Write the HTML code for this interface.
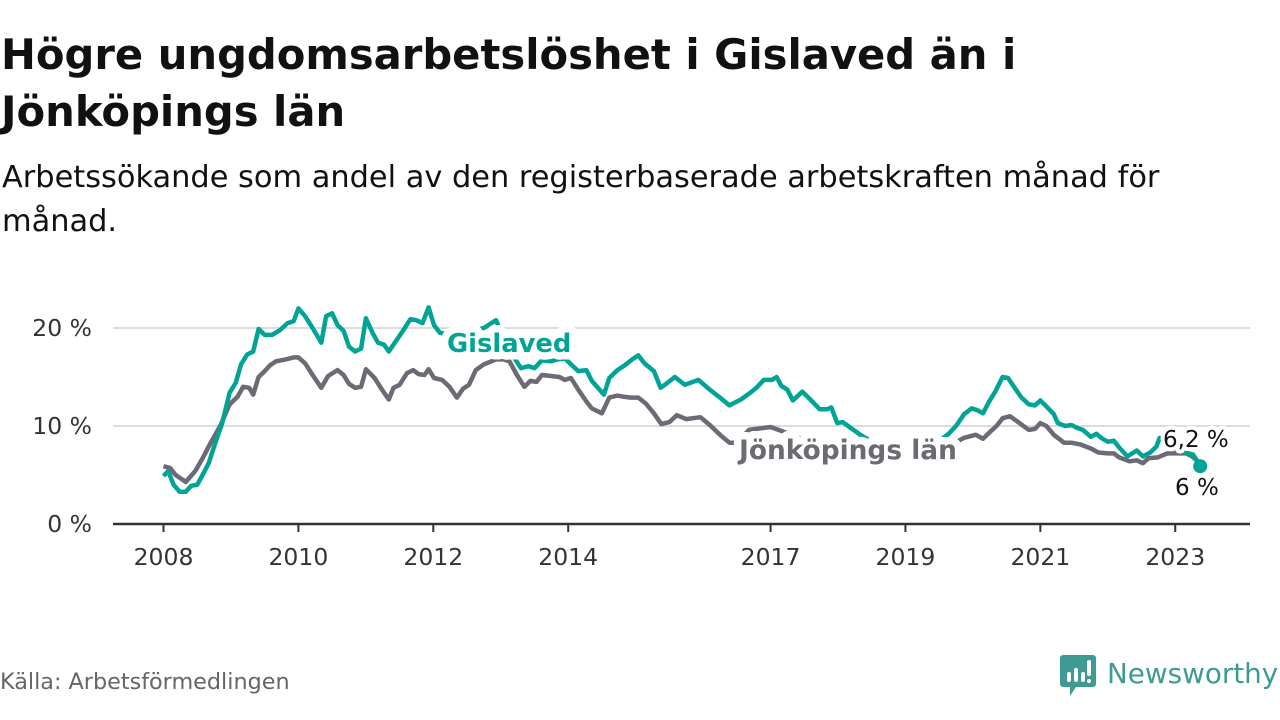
<!DOCTYPE html>
<html><head><meta charset="utf-8"><style>
body{margin:0;width:1280px;height:720px;background:#fff;font-family:"DejaVu Sans","Liberation Sans",sans-serif;overflow:hidden;position:relative}
#title{position:absolute;left:1px;top:26px;font-size:41.7px;font-weight:bold;line-height:57px;color:#111;margin:0;white-space:nowrap}
#sub{position:absolute;left:2px;top:156px;font-size:30.4px;line-height:44px;color:#111;margin:0;white-space:nowrap}
#src{position:absolute;left:0;top:669px;font-size:22.3px;color:#666}
svg{position:absolute;left:0;top:0}
svg text{font-family:"DejaVu Sans","Liberation Sans",sans-serif}
</style></head><body>
<h1 id="title">Högre ungdomsarbetslöshet i Gislaved än i<br>Jönköpings län</h1>
<p id="sub">Arbetssökande som andel av den registerbaserade arbetskraften månad för<br>månad.</p>
<div id="src">Källa: Arbetsförmedlingen</div>
<svg id="chart" width="1280" height="720"></svg>
<script>
const yTicks=[0,10,20];
const yTickLabels=["0 %","10 %","20 %"];
const xTicks=[2008,2010,2012,2014,2017,2019,2021,2023];
const gDates=[2008.0,2008.07,2008.15,2008.24,2008.33,2008.41,2008.5,2008.58,2008.67,2008.75,2008.87,2008.98,2009.07,2009.15,2009.24,2009.33,2009.41,2009.5,2009.61,2009.73,2009.84,2009.93,2010.0,2010.1,2010.21,2010.34,2010.41,2010.5,2010.58,2010.67,2010.75,2010.84,2010.93,2011.0,2011.1,2011.18,2011.27,2011.34,2011.44,2011.55,2011.66,2011.75,2011.84,2011.93,2012.01,2012.1,2012.3,2012.5,2012.75,2012.93,2013.1,2013.3,2013.41,2013.5,2013.61,2013.75,2013.84,2013.95,2014.04,2014.15,2014.27,2014.35,2014.44,2014.53,2014.61,2014.73,2014.84,2014.95,2015.04,2015.13,2015.27,2015.37,2015.47,2015.58,2015.73,2015.93,2016.1,2016.25,2016.39,2016.56,2016.7,2016.79,2016.9,2017.02,2017.09,2017.16,2017.25,2017.33,2017.47,2017.59,2017.73,2017.84,2017.9,2017.99,2018.07,2018.19,2018.33,2018.6,2018.9,2019.1,2019.4,2019.64,2019.75,2019.87,2019.98,2020.07,2020.15,2020.24,2020.33,2020.44,2020.52,2020.61,2020.72,2020.83,2020.92,2021.0,2021.09,2021.2,2021.26,2021.37,2021.46,2021.55,2021.63,2021.75,2021.83,2021.92,2022.0,2022.09,2022.17,2022.29,2022.43,2022.52,2022.63,2022.72,2022.77,2022.9,2023.05,2023.2,2023.26,2023.37];
const gVals=[4.9,5.4,4.0,3.3,3.3,3.9,4.0,5.0,6.2,7.9,10.3,13.4,14.4,16.3,17.3,17.6,19.9,19.3,19.3,19.8,20.5,20.7,22.0,21.2,20.0,18.5,21.2,21.5,20.3,19.7,18.1,17.6,17.9,21.0,19.5,18.5,18.3,17.6,18.6,19.7,20.9,20.8,20.5,22.1,20.3,19.5,19.3,19.6,20.0,20.8,18.0,15.9,16.1,15.9,16.7,16.6,16.8,16.9,16.3,15.6,15.7,14.6,13.9,13.2,14.9,15.7,16.2,16.8,17.2,16.4,15.6,13.9,14.4,15.0,14.2,14.7,13.7,12.9,12.1,12.7,13.4,13.9,14.7,14.7,15.0,14.1,13.7,12.6,13.5,12.7,11.7,11.7,11.9,10.3,10.4,9.8,9.1,8.0,7.6,7.6,7.9,9.2,10.0,11.2,11.8,11.6,11.3,12.5,13.5,15.0,14.9,14.0,12.9,12.2,12.1,12.6,12.0,11.2,10.3,10.0,10.1,9.8,9.6,8.9,9.2,8.7,8.4,8.5,7.8,6.9,7.5,6.9,7.3,7.9,8.8,8.0,7.5,7.2,7.1,6.0];
const jDates=[2008.0,2008.1,2008.18,2008.33,2008.47,2008.58,2008.7,2008.84,2008.98,2009.1,2009.18,2009.27,2009.33,2009.41,2009.5,2009.58,2009.67,2009.81,2009.93,2010.0,2010.1,2010.21,2010.34,2010.44,2010.58,2010.67,2010.75,2010.84,2010.93,2011.0,2011.13,2011.24,2011.34,2011.41,2011.5,2011.61,2011.7,2011.78,2011.87,2011.93,2012.01,2012.13,2012.24,2012.35,2012.44,2012.53,2012.63,2012.75,2012.93,2013.04,2013.13,2013.24,2013.35,2013.44,2013.53,2013.61,2013.75,2013.87,2013.95,2014.04,2014.15,2014.27,2014.35,2014.5,2014.61,2014.73,2014.81,2014.93,2015.04,2015.15,2015.27,2015.38,2015.5,2015.61,2015.75,2015.96,2016.1,2016.25,2016.39,2016.5,2016.68,2017.0,2017.16,2017.5,2017.9,2018.38,2018.8,2019.32,2019.6,2019.87,2020.04,2020.15,2020.27,2020.35,2020.44,2020.55,2020.67,2020.83,2020.92,2021.0,2021.09,2021.2,2021.35,2021.46,2021.6,2021.75,2021.86,2022.0,2022.09,2022.17,2022.32,2022.43,2022.52,2022.6,2022.74,2022.88,2023.02,2023.16,2023.25,2023.37];
const jVals=[5.9,5.7,5.0,4.3,5.4,6.7,8.3,10.0,12.2,13.0,14.0,13.9,13.2,15.0,15.6,16.2,16.6,16.8,17.0,17.0,16.4,15.2,13.9,15.1,15.7,15.2,14.3,13.9,14.0,15.8,14.9,13.7,12.7,13.9,14.2,15.4,15.7,15.3,15.2,15.8,14.9,14.7,14.0,12.9,13.8,14.2,15.7,16.3,16.8,16.8,16.6,15.2,14.0,14.6,14.5,15.2,15.1,15.0,14.7,14.9,13.7,12.5,11.8,11.3,12.9,13.1,13.0,12.9,12.9,12.3,11.3,10.2,10.4,11.1,10.7,10.9,10.1,9.1,8.3,8.3,9.6,9.9,9.5,8.6,7.8,6.4,7.0,6.4,7.8,8.8,9.1,8.7,9.5,10.0,10.8,11.0,10.4,9.6,9.7,10.3,10.0,9.1,8.3,8.3,8.1,7.7,7.3,7.2,7.2,6.8,6.4,6.5,6.2,6.7,6.8,7.2,7.2,7.2,6.9,6.2];

const NS="http://www.w3.org/2000/svg";
const svg=document.getElementById('chart');
const X=t=>163.5+(t-2008)*67.45;
const Y=v=>524-v*9.8;
function mk(tag,attrs,parent){const e=document.createElementNS(NS,tag);for(const k in attrs)e.setAttribute(k,attrs[k]);(parent||svg).appendChild(e);return e;}

yTicks.forEach((v,i)=>{
  if(v>0){const g=mk('line',{x1:113,x2:1250,y1:Y(v),y2:Y(v),stroke:'#dcdcdc','stroke-width':2});
  
  }
  const t=mk('text',{x:92,y:Y(v)+8,'text-anchor':'end','font-size':23.5,fill:'#333'});
  t.textContent=yTickLabels[i];
  
  
});
const ax=mk('line',{x1:113,x2:1250,y1:524,y2:524,stroke:'#333','stroke-width':2.5});


xTicks.forEach(yr=>{
  const tk=mk('line',{x1:X(yr),x2:X(yr),y1:524,y2:532,stroke:'#333','stroke-width':2});
  
  
  const t=mk('text',{x:X(yr),y:565,'text-anchor':'middle','font-size':23.5,fill:'#333'});
  t.textContent=yr;
  
  
});
function path(d,v){return d.map((t,i)=>(i?'L':'M')+X(t).toFixed(1)+','+Y(v[i]).toFixed(1)).join('');}
const jl=mk('path',{d:path(jDates,jVals),fill:'none',stroke:'#6d6a73','stroke-width':4.5,'stroke-linejoin':'round'});


const gl=mk('path',{d:path(gDates,gVals),fill:'none',stroke:'#00a396','stroke-width':4.5,'stroke-linejoin':'round'});


const dot=mk('circle',{cx:X(gDates[gDates.length-1]),cy:Y(gVals[gVals.length-1])+1,r:7,fill:'#00a396'});



function label(txt,x,y,size,fill,bold,name){
  const t=mk('text',{x:x,y:y,'font-size':size,fill:fill,'font-weight':bold?'bold':'normal',stroke:'#fff','stroke-width':bold?15:8,'stroke-linejoin':'round','paint-order':'stroke'});
  t.textContent=txt;
  
  
}
label('Gislaved',447,352,25.8,'#00a396',true,'gislaved-label');
label('Jönköpings län',739,459,26.4,'#6d6a73',true,'jonkoping-label');
label('6,2 %',1163,447,23,'#111',false,'jonkoping-end-value');
label('6 %',1175,495,23,'#111',false,'gislaved-end-value');

// logo
const lg=mk('g',{});


mk('path',{d:'M1063,655 h30 a3,3 0 0 1 3,3 v26 a3,3 0 0 1 -3,3 h-17 l-6,9 v-9 h-7 a3,3 0 0 1 -3,-3 v-26 a3,3 0 0 1 3,-3z',fill:'#3e9a92'},lg);
mk('rect',{x:1067,y:672,width:4,height:10,rx:2,fill:'#fff'},lg);
mk('rect',{x:1074,y:668,width:4,height:14,rx:2,fill:'#fff'},lg);
mk('rect',{x:1081,y:672,width:4,height:10,rx:2,fill:'#fff'},lg);
mk('rect',{x:1087,y:660,width:4,height:16,rx:2,fill:'#fff'},lg);
mk('circle',{cx:1089,cy:681,r:2,fill:'#fff'},lg);
const lt=mk('text',{x:1107,y:683,'font-size':27.8,fill:'#3e9a92','font-weight':'500'},lg);
lt.textContent='Newsworthy';


</script>
</body></html>
